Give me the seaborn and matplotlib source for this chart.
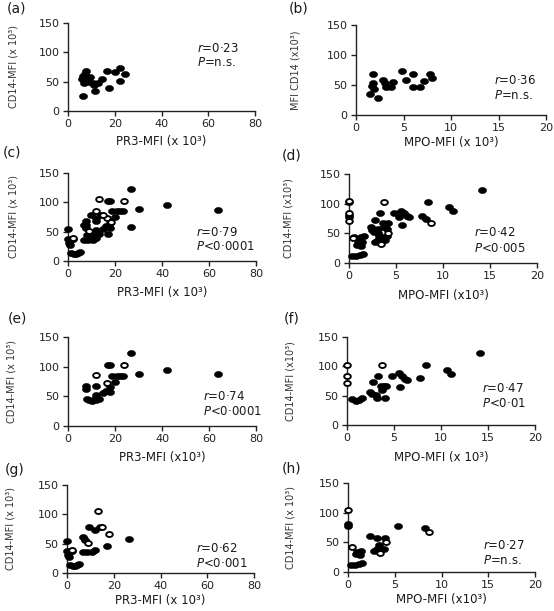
import numpy as np
import pandas as pd
import matplotlib
matplotlib.use("Agg")
import matplotlib.pyplot as plt
import seaborn as sns
from matplotlib.path import Path
from matplotlib.markers import MarkerStyle
from matplotlib.transforms import Affine2D

sns.set_style("ticks")
plt.rcParams['font.family'] = ['DejaVu Sans']
plt.rcParams['mathtext.fontset'] = 'dejavusans'

# ---------------- data ----------------
# (a) PR3 vs CD14
a_x = [6.4, 7.7, 6.0, 6.6, 6.8, 8.3, 9.4, 9.1, 10.8, 11.6, 13.0, 14.4, 16.5, 17.7, 20.1, 22.3, 22.3, 24.4, 7.2, 11.0]
a_y = [26, 68, 55, 59, 47, 53, 58, 50, 47, 34, 47, 55, 68, 40, 66, 73, 51, 63, 63, 44]
# (b) MPO vs CD14
b_x = [1.5, 1.8, 1.8, 1.7, 1.9, 2.3, 2.8, 3.0, 3.2, 3.7, 3.9, 4.8, 5.3, 6.0, 6.0, 6.7, 7.2, 7.8, 8.0]
b_y = [35, 68, 54, 48, 43, 28, 58, 53, 46, 46, 55, 74, 58, 69, 46, 46, 57, 68, 62]
# (e) PR3 vs CD14, group 1
e_x = [7.8, 7.5, 8.1, 9.0, 10.4, 11.4, 12.1, 11.8, 13.0, 12.1, 14.9, 16.3, 17.0, 17.8, 17.8, 17.8,
       18.9, 19.9, 20.9, 22.3, 23.4, 26.7, 30.3, 42.2, 63.9]
e_y = [68, 62, 45, 44, 42, 45, 52, 44, 46, 68, 55, 59, 102, 103, 65, 57, 85, 75, 85, 85, 85, 123, 88, 95, 87]
e_open_x = [12.1, 23.7, 16.6]
e_open_y = [86, 103, 73]
# (g) PR3 vs CD14, group 2
g_x = [0.1, 0.0, 0.3, 1.3, 2.0, 1.0, 1.3, 2.4, 3.4, 4.4, 5.3, 6.7, 7.7, 7.0, 8.4, 9.6, 10.6, 11.8,
       12.1, 14.1, 17.0, 26.7]
g_y = [55, 37, 31, 36, 38, 28, 14, 12, 12, 13, 15, 61, 57, 36, 36, 78, 36, 74, 40, 79, 46, 58]
g_open_x = [13.3, 14.8, 18.1, 9.1, 2.0]
g_open_y = [106, 78, 66, 51, 40]
# (f) MPO vs CD14, group 1
f_x = [0.57, 0.92, 1.27, 1.6, 2.4, 2.7, 2.8, 3.1, 3.2, 3.3, 3.6, 3.7, 3.9, 4.0, 4.1, 4.8, 5.5, 5.6,
       5.9, 6.2, 6.4, 7.8, 8.4, 10.6, 11.1, 14.1]
f_y = [44, 41, 43, 46, 56, 52, 73, 51, 46, 84, 67, 60, 66, 46, 67, 84, 88, 64, 84, 79, 77, 80, 102, 94, 87, 123]
f_open_x = [0.03, 0.03, 0.03, 3.7]
f_open_y = [102, 84, 71, 102]
# (h) MPO vs CD14, group 2
h_x = [0, 0, 0.36, 0.7, 1.2, 1.5, 1.0, 1.3, 1.4, 0.9, 2.3, 3.1, 2.8, 3.1, 3.3, 3.8, 4.0, 5.3, 8.2]
h_y = [77, 81, 12, 12, 13, 15, 34, 29, 35, 30, 61, 58, 35, 38, 45, 39, 58, 78, 74]
h_open_x = [0, 0.4, 3.4, 4.1, 8.7]
h_open_y = [105, 42, 32, 51, 67]
# (c) and (d) are all patients (union of groups)
c_x, c_y = e_x + g_x, e_y + g_y
c_open_x, c_open_y = e_open_x + g_open_x, e_open_y + g_open_y
d_x, d_y = f_x + h_x, f_y + h_y
d_open_x, d_open_y = f_open_x + h_open_x, f_open_y + h_open_y

y_ticks = [0, 50, 100, 150]
pr3_ticks = [0, 20, 40, 60, 80]
mpo_ticks = [0, 5, 10, 15, 20]

# ---------------- figure ----------------
W, H = 554, 611
fig = plt.figure(figsize=(W / 100, H / 100), dpi=100)

ell = Path.unit_circle().transformed(Affine2D().scale(1.33, 1.0))
ell_marker = MarkerStyle(ell)

def add_ax(x0, x1, y0, y1):
    return fig.add_axes([x0 / W, 1 - y1 / H, (x1 - x0) / W, (y1 - y0) / H])

panels = [
    ("(a)", (68, 255, 23, 111), a_x, a_y, [], [], pr3_ticks, "PR3-MFI (x 10³)", "CD14-MFI (x 10³)",
     "0·23", "=n.s.", 55, 107, 82, (17, 8), -0.29, -0.35),
    ("(b)", (356, 546, 25, 115), b_x, b_y, [], [], mpo_ticks, "MPO-MFI (x 10³)", "MFI CD14 (x10³)",
     "0·36", "=n.s.", 14.5, 58, 32, (299, 8), -0.32, -0.31),
    ("(c)", (68, 256, 173, 261), c_x, c_y, c_open_x, c_open_y, pr3_ticks, "PR3-MFI (x 10³)", "CD14-MFI (x 10³)",
     "0·79", "<0·0001", 54.5, 49, 24, (12, 153), -0.29, -0.36),
    ("(d)", (349, 537, 174, 263), d_x, d_y, d_open_x, d_open_y, mpo_ticks, "MPO-MFI (x10³)", "CD14-MFI (x10³)",
     "0·42", "<0·005", 13.3, 51, 25, (292, 155), -0.32, -0.36),
    ("(e)", (68, 256, 337, 426), e_x, e_y, e_open_x, e_open_y, pr3_ticks, "PR3-MFI (x10³)", "CD14-MFI (x 10³)",
     "0·74", "<0·0001", 57.4, 49, 24, (17, 318), -0.30, -0.35),
    ("(f)", (347, 535, 337, 425), f_x, f_y, f_open_x, f_open_y, mpo_ticks, "MPO-MFI (x 10³)", "CD14-MFI (x10³)",
     "0·47", "<0·01", 14.4, 63, 37, (292, 318), -0.30, -0.37),
    ("(g)", (67, 254, 485, 573), g_x, g_y, g_open_x, g_open_y, pr3_ticks, "PR3-MFI (x 10³)", "CD14-MFI (x 10³)",
     "0·62", "<0·001", 55, 41, 17, (15, 470), -0.30, -0.31),
    ("(h)", (348, 535, 483, 572), h_x, h_y, h_open_x, h_open_y, mpo_ticks, "MPO-MFI (x10³)", "CD14-MFI (x 10³)",
     "0·27", "=n.s.", 14.4, 45, 20, (292, 468), -0.31, -0.31),
]

txt_col = "#1a1a1a"
for (letter, box, fx, fy, ox, oy, xticks, xlabel, ylabel, rtxt, ptxt, tx, ry, py,
     lpos, ylx, xly) in panels:
    ax = add_ax(*box)
    df_f = pd.DataFrame({"x": fx, "y": fy})
    sns.scatterplot(data=df_f, x="x", y="y", ax=ax, marker=ell_marker, s=34,
                    color="black", edgecolor="black", linewidth=0.4, clip_on=False, zorder=3)
    if len(ox):
        df_o = pd.DataFrame({"x": ox, "y": oy})
        sns.scatterplot(data=df_o, x="x", y="y", ax=ax, marker=ell_marker, s=23,
                        facecolor="white", edgecolor="black", linewidth=1.35, clip_on=False, zorder=4)
    ax.set_xlim(xticks[0], xticks[-1])
    ax.set_ylim(0, 150)
    ax.set_xticks(xticks)
    ax.set_yticks(y_ticks)
    sns.despine(ax=ax)
    for s in ["left", "bottom"]:
        ax.spines[s].set_linewidth(1.0)
        ax.spines[s].set_color("#222222")
    ax.tick_params(axis="both", direction="out", length=3.6, width=1.0, labelsize=8,
                   colors="#222222", pad=2.5)
    ax.set_xlabel(xlabel, fontsize=8.5, color=txt_col)
    ax.set_ylabel(ylabel, fontsize=7, color="#333333")
    ax.xaxis.set_label_coords(0.5, xly)
    ax.xaxis.label.set_va("center")
    ax.yaxis.set_label_coords(ylx, 0.5)
    ax.yaxis.label.set_va("center")
    ax.text(tx, ry, r"$\mathit{r}$=" + rtxt, fontsize=8.5, color=txt_col, ha="left", va="center")
    ax.text(tx, py, r"$\mathit{P}$" + ptxt, fontsize=8.5, color=txt_col, ha="left", va="center")
    fig.text(lpos[0] / W, 1 - lpos[1] / H, letter, fontsize=10, color=txt_col, ha="center", va="center")

fig.savefig("out.png", dpi=100, facecolor="white")
